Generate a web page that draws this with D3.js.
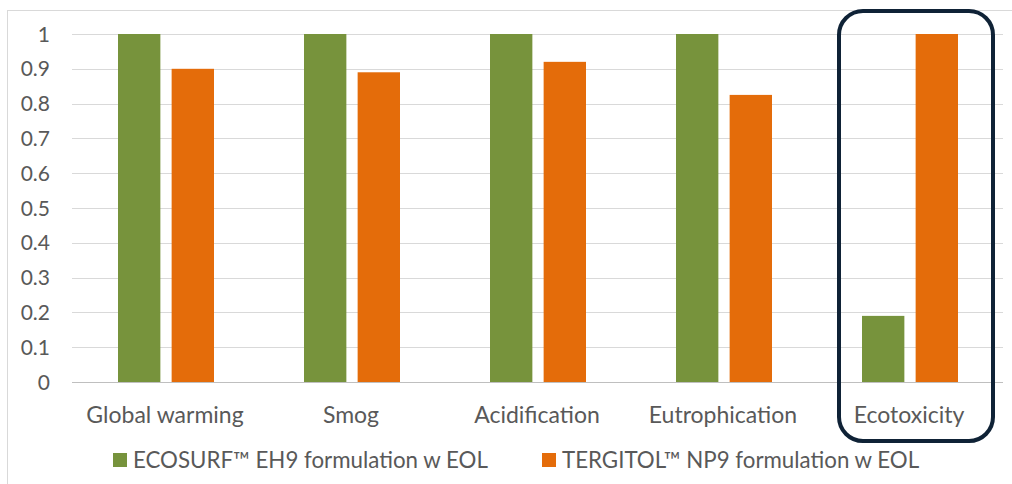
<!DOCTYPE html>
<html><head><meta charset="utf-8">
<script src="https://cdn.jsdelivr.net/npm/d3@7"></script>
<style>body{margin:0;background:#fff;}svg{display:block;font-family:Lato,"Open Sans",sans-serif;}</style>
</head><body><svg id="c" width="1012" height="484"></svg>
<script>
const categories = ["Global warming","Smog","Acidification","Eutrophication","Ecotoxicity"];
const ecosurf = [1,1,1,1,0.19];
const tergitol = [0.9,0.89,0.92,0.825,1];
const seriesNames = ["ECOSURF\u2122 EH9 formulation w EOL","TERGITOL\u2122 NP9 formulation w EOL"];
const yTicks = [0,0.1,0.2,0.3,0.4,0.5,0.6,0.7,0.8,0.9,1];
const colors = ["#77933C","#E46C0A"];

const svg = d3.select("#c");
svg.append("rect").attr("x",7.5).attr("y",10.5).attr("width",1010).attr("height",480)
  .attr("fill","#fff").attr("stroke","#d9d9d9");

const x = d3.scaleBand().domain(categories).range([72,1002]).paddingInner(0).paddingOuter(0);
const y = d3.scaleLinear().domain([0,1]).range([382,34]);
const x1 = d3.scaleBand().domain([0,1]).range([-47,49]).paddingInner(0.21).paddingOuter(0);

// gridlines
svg.append("g").selectAll("line").data(yTicks).join("line")
  .attr("x1",72).attr("x2",1003).attr("y1",d=>Math.round(y(d))+0.5).attr("y2",d=>Math.round(y(d))+0.5)
  .attr("stroke",d=>d===0?"#bfbfbf":"#d9d9d9").attr("stroke-width",1);

// y labels
svg.append("g").selectAll("text").data(yTicks).join("text")
  .attr("x",50).attr("y",d=>y(d)).attr("dy","0.36em").attr("text-anchor","end")
  .attr("font-size",21).attr("fill","#595959").text(d=>d3.format("~g")(d));

const data = [ecosurf, tergitol];
data.forEach((vals,si)=>{
  svg.append("g").selectAll("rect").data(vals).join("rect")
    .attr("x",(d,i)=>x(categories[i])+x.bandwidth()/2+x1(si))
    .attr("width",x1.bandwidth())
    .attr("y",d=>y(d)).attr("height",d=>y(0)-y(d))
    .attr("fill",colors[si]);
});

// category labels
svg.append("g").selectAll("text").data(categories).join("text")
  .attr("x",d=>x(d)+x.bandwidth()/2).attr("y",423).attr("text-anchor","middle")
  .attr("font-size",23).attr("fill","#595959").text(d=>d);

// legend
const legX = [113,542];
seriesNames.forEach((n,i)=>{
  svg.append("rect").attr("x",legX[i]).attr("y",453).attr("width",14).attr("height",14).attr("fill",colors[i]);
  svg.append("text").attr("x",legX[i]+20).attr("y",468).attr("font-size",22.3).attr("fill","#595959").text(n);
});

// highlight box
svg.append("rect").attr("x",839).attr("y",11).attr("width",154).attr("height",430)
  .attr("rx",24).attr("ry",24).attr("fill","none").attr("stroke","#0F2236").attr("stroke-width",4);
</script></body></html>
